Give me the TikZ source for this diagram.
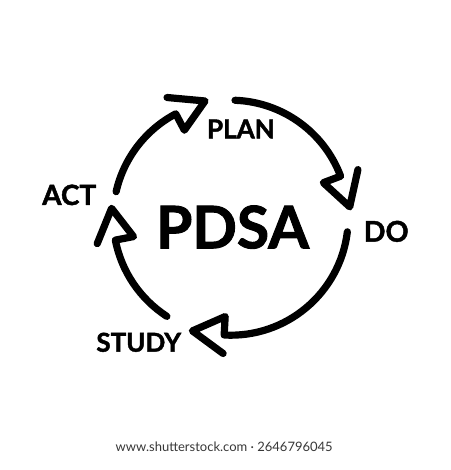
\documentclass[tikz,border=0pt]{standalone}
\usepackage{fontspec}
\setmainfont{Lato}
\newfontfamily\heavyfont{Lato}[BoldFeatures={FakeBold=1.6}]
\begin{document}
\begin{tikzpicture}[x=1pt,y=1pt,
  cyc/.style={line width=7.2pt,line cap=round,line join=round,black},
  lbl/.style={inner sep=0pt,anchor=base},
  foot/.style={inner sep=0pt,anchor=base,text=black!78}]
\useasboundingbox (0,0) rectangle (450,470);
\fill[white] (0,0) rectangle (450,470);
\coordinate (C) at (230.7,252.3);
% arcs: start angle, barb angle, tip angle
\newcommand\cyclearrow[3]{%
  \draw[cyc,shift={(C)}] (#1:117.5) arc[start angle=#1,end angle=#2,radius=117.5]
    -- (#2:99) -- (#3:119.5) -- (#2:136);}
\cyclearrow{167.2}{117.9}{102.4}
\cyclearrow{87.9}{20.7}{5.2}
\cyclearrow{-6.9}{-93.2}{-108.7}
\cyclearrow{-122.9}{-169}{-184.5}
% labels
\node[lbl,font=\heavyfont\bfseries\fontsize{26}{30}\selectfont] (plan) at (240.9,331.7) {PLAN};
\node[lbl,font=\heavyfont\bfseries\fontsize{28.6}{32}\selectfont] (do) at (386.2,228.3) {DO};
\node[lbl,font=\heavyfont\bfseries\fontsize{27.9}{32}\selectfont] (act) at (69.2,265) {ACT};
\node[lbl,font=\heavyfont\bfseries\fontsize{26}{30}\selectfont] (study) at (138.7,118.3) {STUDY};
\node[lbl,font=\heavyfont\bfseries\fontsize{58.6}{64}\selectfont] (pdsa) at (232.5,221.7) {PDSA};
\node[foot,font=\fontsize{13}{15}\selectfont] (footer) at (224.2,18) {www.shutterstock.com · 2646796045};
\end{tikzpicture}
\end{document}
